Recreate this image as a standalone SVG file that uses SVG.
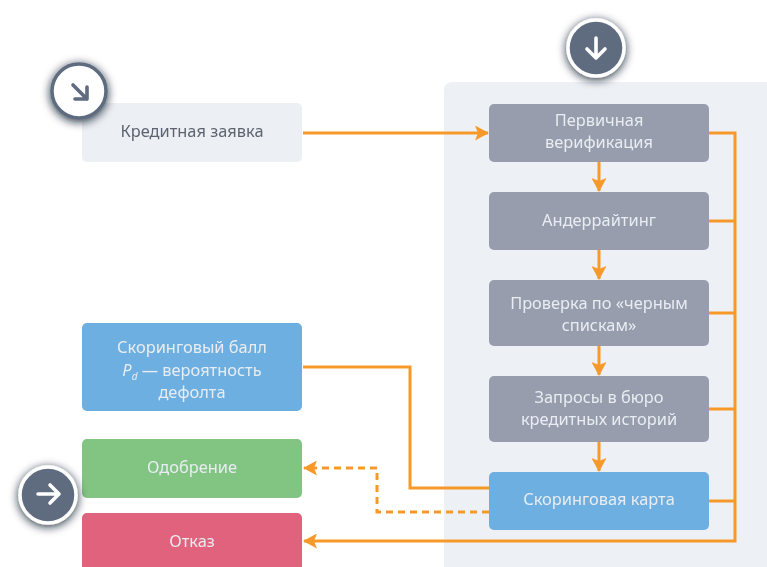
<svg xmlns="http://www.w3.org/2000/svg" width="767" height="567" viewBox="0 0 767 567">
<style>
.n{stroke:none}
.t{font-family:"Noto Sans","Open Sans","Liberation Sans",sans-serif;font-size:16.4px;text-anchor:middle;fill:#e9edf2}
.c{fill:none;stroke:#f7992b;stroke-width:3}
.d{stroke-dasharray:7 5}
.ic{fill:none;stroke-width:3.6;stroke-linecap:round;stroke-linejoin:round}
</style>
<defs>
<marker id="a" viewBox="0 0 14 15" refX="13" refY="7.5" markerUnits="userSpaceOnUse" markerWidth="14" markerHeight="15" orient="auto"><path d="M0 0L14 7.5L0 15L3 7.5Z" fill="#f7992b"/></marker>
<filter id="s" x="-60%" y="-60%" width="220%" height="220%"><feDropShadow dx="0" dy="2" stdDeviation="5" flood-color="#10192a" flood-opacity=".9"/></filter>
<filter id="b" x="-2%" y="-2%" width="104%" height="104%"><feGaussianBlur stdDeviation="0.7"/></filter>
</defs>
<rect width="767" height="567" fill="#fff"/>
<g filter="url(#b)">
<rect id="panel" x="444" y="82" width="340" height="500" rx="8" fill="#edf0f4"/>
<g id="connectors">
<path class="c" d="M303 133H488" marker-end="url(#a)"/>
<path class="c" d="M599 162V191" marker-end="url(#a)"/>
<path class="c" d="M599 250V279" marker-end="url(#a)"/>
<path class="c" d="M599 346V375" marker-end="url(#a)"/>
<path class="c" d="M599 442V471" marker-end="url(#a)"/>
<path class="c" d="M709 133H735V541H304" marker-end="url(#a)"/>
<path class="c" d="M709 221H735M709 313H735M709 409H735M709 501H735"/>
<path class="c" d="M303 367H410V488H489"/>
<path class="c d" d="M489 512H377V468H304" marker-end="url(#a)"/>
</g>
<g id="n-zayavka"><rect class="n" x="82" y="103" width="220" height="59" rx="5" fill="#eceff3"/><text class="t" x="192" y="137" style="fill:#5d6470">Кредитная заявка</text></g>
<g id="n-verif"><rect class="n" x="489" y="104" width="220" height="58" rx="5" fill="#989dae"/><text class="t" x="599" y="126">Первичная</text><text class="t" x="599" y="148">верификация</text></g>
<g id="n-under"><rect class="n" x="489" y="192" width="220" height="58" rx="5" fill="#989dae"/><text class="t" x="599" y="226">Андеррайтинг</text></g>
<g id="n-black"><rect class="n" x="489" y="280" width="220" height="66" rx="5" fill="#989dae"/><text class="t" x="599" y="309">Проверка по «черным</text><text class="t" x="599" y="331">спискам»</text></g>
<g id="n-bureau"><rect class="n" x="489" y="376" width="220" height="66" rx="5" fill="#989dae"/><text class="t" x="599" y="403">Запросы в бюро</text><text class="t" x="599" y="425">кредитных историй</text></g>
<g id="n-card"><rect class="n" x="489" y="472" width="220" height="58" rx="5" fill="#6dafe0"/><text class="t" x="599" y="505">Скоринговая карта</text></g>
<g id="n-score"><rect class="n" x="82" y="323" width="220" height="88" rx="5" fill="#6dafe0"/><text class="t" x="192" y="353">Скоринговый балл</text><text class="t" x="192" y="376"><tspan font-style="italic">P</tspan><tspan font-style="italic" font-size="10" dy="4">d</tspan><tspan dy="-4"> — вероятность</tspan></text><text class="t" x="192" y="398">дефолта</text></g>
<g id="n-ok"><rect class="n" x="82" y="439" width="220" height="59" rx="5" fill="#82c482"/><text class="t" x="192" y="473">Одобрение</text></g>
<g id="n-no"><rect class="n" x="82" y="513" width="220" height="70" rx="5" fill="#e0627b"/><text class="t" x="192" y="547">Отказ</text></g>
<g id="b-in"><circle cx="79" cy="91" r="27" fill="#fff" stroke="#5e6c80" stroke-width="3.5" filter="url(#s)"/><path class="ic" stroke="#5e6c80" d="M73 85L87 99M87 87V99H75"/></g>
<g id="b-down"><circle cx="596" cy="48" r="28" fill="#5e6c80" stroke="#fff" stroke-width="3.5" filter="url(#s)"/><path class="ic" stroke="#fff" d="M596 38V58M587 49L596 58L605 49"/></g>
<g id="b-right"><circle cx="48" cy="495" r="28" fill="#5e6c80" stroke="#fff" stroke-width="3.5" filter="url(#s)"/><path class="ic" stroke="#fff" d="M38 494H59M50 485L59 494L50 503"/></g>
</g>
</svg>
